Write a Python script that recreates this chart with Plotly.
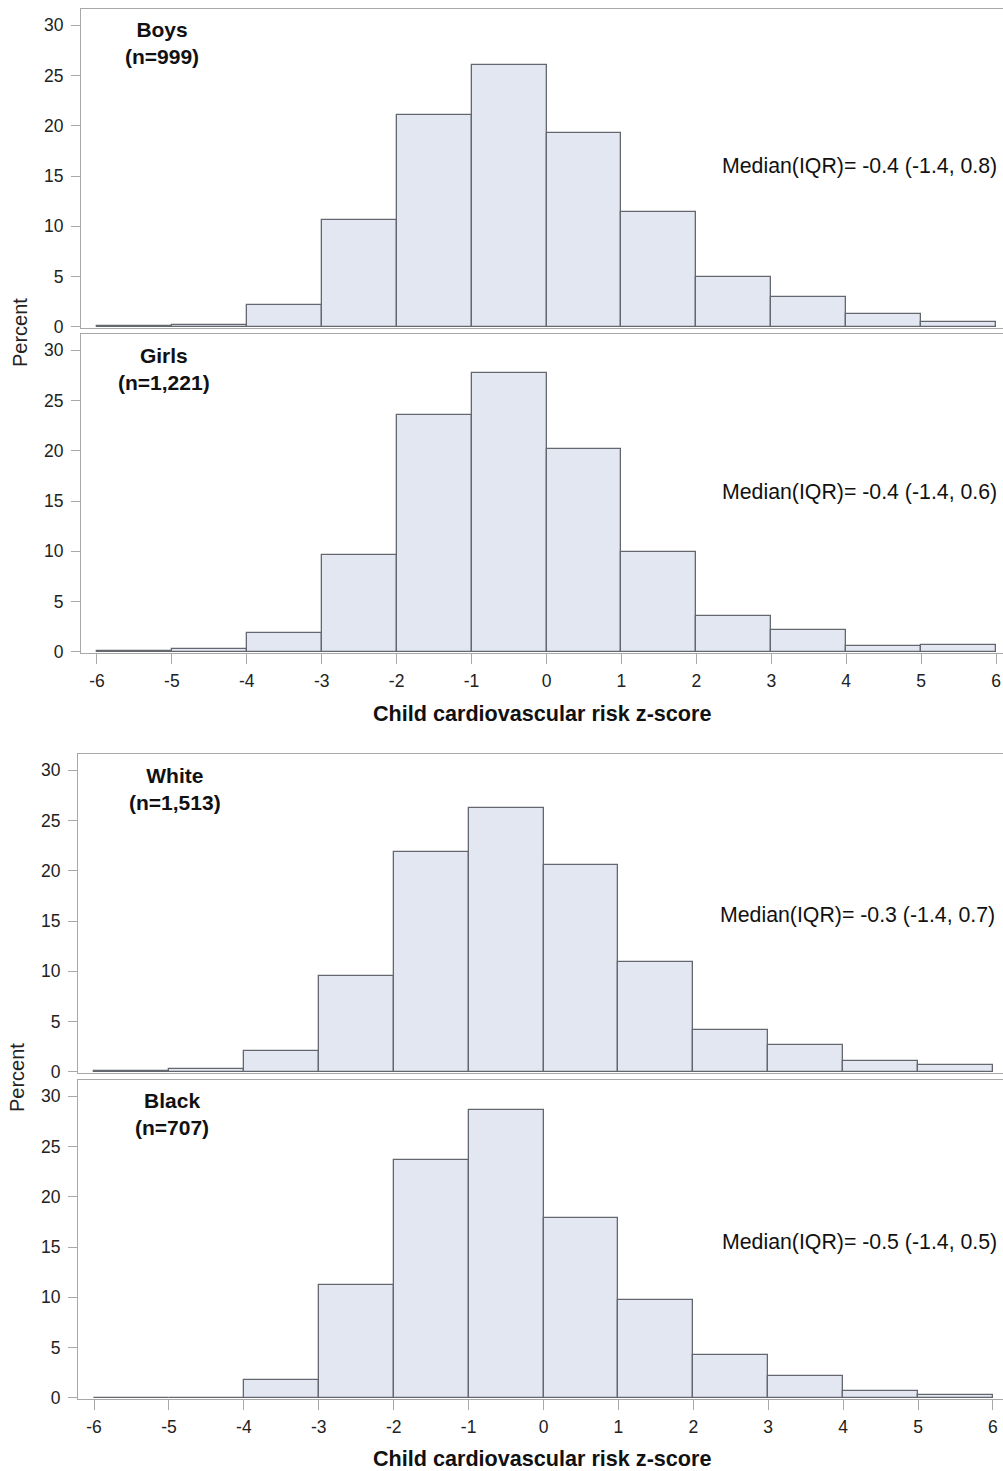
import plotly.graph_objects as go

W, H = 1003, 1471

# ---- data ----
bin_left = [-6, -5, -4, -3, -2, -1, 0, 1, 2, 3, 4, 5]
boys = [0.05, 0.15, 2.15, 10.6, 21.1, 26.0, 19.3, 11.4, 4.95, 2.95, 1.3, 0.45]
girls = [0.05, 0.3, 1.9, 9.6, 23.6, 27.7, 20.2, 9.95, 3.6, 2.2, 0.6, 0.7]
white = [0.05, 0.27, 2.1, 9.5, 21.9, 26.2, 20.6, 10.9, 4.2, 2.7, 1.1, 0.7]
black = [0.03, 0.03, 1.8, 11.2, 23.7, 28.6, 17.9, 9.7, 4.3, 2.2, 0.65, 0.3]

panel_names = ["Boys", "Girls", "White", "Black"]
panel_n = ["(n=999)", "(n=1,221)", "(n=1,513)", "(n=707)"]
medians = ["Median(IQR)= -0.4 (-1.4, 0.8)", "Median(IQR)= -0.4 (-1.4, 0.6)",
           "Median(IQR)= -0.3 (-1.4, 0.7)", "Median(IQR)= -0.5 (-1.4, 0.5)"]
series = [boys, girls, white, black]
x_ticks = [-6, -5, -4, -3, -2, -1, 0, 1, 2, 3, 4, 5, 6]
y_ticks = [0, 5, 10, 15, 20, 25, 30]
x_title = "Child cardiovascular risk z-score"
y_title = "Percent"

# ---- layout helpers (pixel -> paper) ----
def px(x):
    return x / W

def py(y):
    return 1 - y / H

FONT = "Liberation Sans, Arial, sans-serif"
FILL = "#E3E7F1"
EDGE = "#64686e"
FRAME = "#a8a8a8"
TXT = "#222222"

# panel frames (top, bottom pixel), x-left pixel, x range
frames = [(9, 328, 81, [-6.213, 6.093]),
          (334, 653, 81, [-6.213, 6.093]),
          (754, 1073, 78, [-6.214, 6.134]),
          (1080, 1399, 78, [-6.214, 6.134])]

fig = go.Figure()
centers = [b + 0.5 for b in bin_left]

layout = dict(width=W, height=H, margin=dict(l=0, r=0, t=0, b=0, pad=0, autoexpand=False),
              template="none",
              paper_bgcolor="white", plot_bgcolor="white", showlegend=False,
              font=dict(family=FONT, color=TXT), bargap=0)

annotations = []
for i, (vals, (top, bot, left, xr)) in enumerate(zip(series, frames)):
    xa = "x" if i == 0 else f"x{i+1}"
    ya = "y" if i == 0 else f"y{i+1}"
    fig.add_trace(go.Bar(x=centers, y=vals, width=1.0, xaxis=xa, yaxis=ya,
                         marker=dict(color=FILL, line=dict(color=EDGE, width=1.3)),
                         hoverinfo="x+y"))
    show_x = i in (1, 3)
    layout["xaxis" if i == 0 else f"xaxis{i+1}"] = dict(
        domain=[px(left), 1.0], range=xr, anchor=ya, automargin=False,
        tickvals=x_ticks, ticktext=[str(t) for t in x_ticks],
        showticklabels=show_x, ticks="outside" if show_x else "",
        ticklen=10, tickcolor=FRAME, tickwidth=1, ticklabelstandoff=2,
        tickfont=dict(size=17.5, color=TXT, family=FONT),
        showline=True, linecolor=FRAME, linewidth=1, mirror=True,
        showgrid=False, zeroline=False)
    layout["yaxis" if i == 0 else f"yaxis{i+1}"] = dict(
        domain=[py(bot), py(top)], range=[-0.1, 31.6], anchor=xa, automargin=False,
        tickvals=y_ticks, ticks="outside", ticklen=9, tickcolor=FRAME, tickwidth=1,
        ticklabelstandoff=4,
        tickfont=dict(size=17.5, color=TXT, family=FONT),
        showline=True, linecolor=FRAME, linewidth=1, mirror=False,
        showgrid=False, zeroline=False)

# panel labels
label_pos = [(162, 43), (164, 369), (175, 789), (172, 1114)]
median_pos = [(999, 166), (999, 492), (997, 915), (999, 1242)]
for i in range(4):
    lx, ly = label_pos[i]
    annotations.append(dict(x=px(lx), y=py(ly), xref="paper", yref="paper",
                            text=f"<b>{panel_names[i]}</b><br><b>{panel_n[i]}</b>",
                            showarrow=False, xanchor="center", yanchor="middle",
                            font=dict(size=21, family=FONT, color="#111111")))
    mx, my = median_pos[i]
    annotations.append(dict(x=px(mx), y=py(my), xref="paper", yref="paper",
                            text=medians[i], showarrow=False,
                            xanchor="right", yanchor="middle",
                            font=dict(size=21.3, family=FONT, color="#111111")))

# axis titles
for (tx, ty) in [(542, 713), (542, 1458)]:
    annotations.append(dict(x=px(tx), y=py(ty), xref="paper", yref="paper",
                            text=f"<b>{x_title}</b>", showarrow=False,
                            xanchor="center", yanchor="middle",
                            font=dict(size=21.6, family=FONT, color="#111111")))
for (tx, ty) in [(20, 333), (17, 1078)]:
    annotations.append(dict(x=px(tx), y=py(ty), xref="paper", yref="paper",
                            text=y_title, showarrow=False, textangle=-90,
                            xanchor="center", yanchor="middle",
                            font=dict(size=20, family=FONT, color=TXT)))

layout["annotations"] = annotations
fig.update_layout(**layout)

fig.write_html("out.html", config={"displayModeBar": False},
               post_script="document.body.style.margin='0';")
